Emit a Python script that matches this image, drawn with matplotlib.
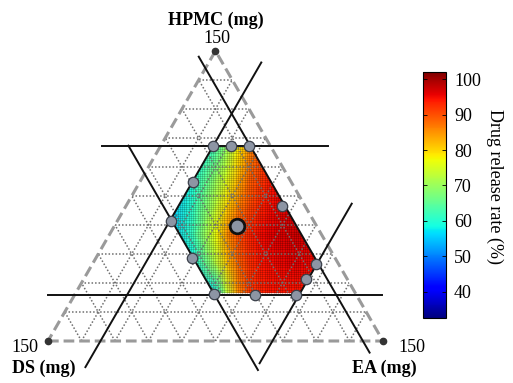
import numpy as np
import matplotlib
matplotlib.use("Agg")
import matplotlib.pyplot as plt
from matplotlib.patches import Polygon

plt.rcParams["font.family"] = ["Liberation Serif", "DejaVu Serif"]

TOTAL = 150          # mg, every vertex of the triangle
GRID_STEP = 15       # mg between dotted grid lines

# feasible region corners (HPMC, EA in mg; DS is the rest)
hull_hpmc = [101, 101, 40.5, 24, 24, 63]
hull_ea = [23.5, 40, 100.5, 100.5, 62.5, 23.5]

# constraint lines: (component, value, from, to)
# HPMC lines run over EA, DS / EA lines run over HPMC
constraint_lines = [
    ("HPMC", 101, -26.5, 75),
    ("HPMC", 24, -12, 137.5),
    ("DS", 9, 147, -6),
    ("EA", 23.5, 144, -13.5),
    ("DS", 63.5, 101, -15),
    ("EA", 100.5, 71, -11.5),
]

# design points
design_hpmc = [101, 101, 101, 82, 70, 62, 43, 40, 32, 24.5, 24, 24]
design_ea = [23.5, 31.5, 39.5, 24, 70, 24, 43, 100, 99.5, 62, 80.5, 99]
center_hpmc = 59.5
center_ea = 55

# drug release rate (%) read on rows of HPMC and columns of
# horizontal position (EA + HPMC / 2, mg)
surf_pos = [55, 65, 75, 80, 85, 90, 95, 100, 110, 120]
surf_hpmc = [25, 40, 55, 70, 85, 100]
release = [
    [48, 52, 58, 73, 85, 91, 93, 94, 94, 94],
    [53, 58, 72, 81, 88, 92, 94, 95, 96, 95],
    [55, 62, 77, 85, 90, 93, 95, 96, 97, 97],
    [55, 61, 73, 80, 86, 90, 93, 95, 97, 97],
    [53, 59, 69, 75, 82, 88, 91, 94, 96, 97],
    [53, 57, 63, 70, 78, 85, 90, 93, 96, 97],
]

CBAR_MIN, CBAR_MAX = 32.6, 102.1
cbar_ticks = [40, 50, 60, 70, 80, 90, 100]

H = np.sqrt(3) / 2


def tern(hpmc, ea):
    hpmc = np.asarray(hpmc, dtype=float)
    ea = np.asarray(ea, dtype=float)
    return ea + hpmc / 2, hpmc * H


def seg(comp, value, lo, hi):
    t = np.array([lo, hi], dtype=float)
    if comp == "HPMC":
        return tern([value, value], t)
    if comp == "EA":
        return tern(t, [value, value])
    # DS constant: EA = TOTAL - DS - HPMC
    return tern(t, TOTAL - value - t)


fig = plt.figure(figsize=(5.13, 3.83), dpi=100)
scale = 2.2333  # px per mg
ax = fig.add_axes([0, 0, 1, 1])
ax.set_xlim(-48 / scale, (513 - 48) / scale)
ax.set_ylim(-(383 - 341) / scale, 341 / scale)
ax.axis("off")

# feasible region and response surface
hx, hy = tern(hull_hpmc, hull_ea)
region = Polygon(np.column_stack([hx, hy]), closed=True, facecolor="none",
                 edgecolor="none")
ax.add_patch(region)

gx, gh = np.meshgrid(surf_pos, surf_hpmc)
mesh = ax.pcolormesh(gx, gh * H, np.array(release), cmap="jet",
                     shading="gouraud", vmin=CBAR_MIN, vmax=CBAR_MAX, zorder=1)
mesh.set_clip_path(region)

# fine mesh texture over the surface
for xv in np.arange(50, 125, 1.0):
    ln, = ax.plot([xv, xv], [15, 95], color="k", lw=0.4, alpha=0.3, zorder=2)
    ln.set_clip_path(region)
for yv in np.arange(15, 95, 1.0):
    ln, = ax.plot([50, 125], [yv, yv], color="k", lw=0.4, alpha=0.3, zorder=2)
    ln.set_clip_path(region)

# dotted triangular grid
for k in range(GRID_STEP, TOTAL, GRID_STEP):
    for comp in ("HPMC", "EA", "DS"):
        x, y = seg(comp, k, 0, TOTAL - k)
        ax.plot(x, y, color="#6f6f6f", lw=1.1, ls=(0, (1, 1.3)), zorder=3)

# dashed outline of the triangle
vx, vy = tern([0, 0, TOTAL, 0], [0, TOTAL, 0, 0])
ax.plot(vx, vy, color="#9a9a9a", lw=2.2, dashes=(3.5, 1.6), zorder=4)
ax.plot(vx[:3], vy[:3], "o", color="#333333", ms=4.5, zorder=4)

# constraint lines
for comp, value, lo, hi in constraint_lines:
    x, y = seg(comp, value, lo, hi)
    ax.plot(x, y, color="#111111", lw=1.4, zorder=5)

# design points
dx, dy = tern(design_hpmc, design_ea)
ax.plot(dx, dy, "o", ms=7.5, mfc="#8d95a4", mec="#3b404a", mew=0.9, zorder=6)
cx, cy = tern(center_hpmc, center_ea)
ax.plot(cx, cy, "o", ms=10.5, mfc="#8d95a4", mec="#111111", mew=2.0, zorder=7)

# labels
tx, ty = tern(TOTAL, 0)
ax.text(tx + 0.5, ty + 3.4, "150", fontsize=13, ha="center", va="baseline")
ax.text(tx, ty + 11.6, "HPMC (mg)", fontsize=13, fontweight="bold",
        ha="center", va="baseline")
lx, ly = tern(0, 0)
ax.text(lx - 4.5, ly - 4.9, "150", fontsize=13, ha="right", va="baseline")
ax.text(lx - 16.1, ly - 14.5, "DS (mg)", fontsize=13, fontweight="bold",
        ha="left", va="baseline")
rx, ry = tern(0, TOTAL)
ax.text(rx + 6.7, ry - 4.8, "150", fontsize=13, ha="left", va="baseline")
ax.text(rx - 13.9, ry - 14.3, "EA (mg)", fontsize=13, fontweight="bold",
        ha="left", va="baseline")

# colorbar
cax = fig.add_axes([423.3 / 513, 1 - 318 / 383, 22.4 / 513, (318 - 71.7) / 383])
cbar = fig.colorbar(mesh, cax=cax, ticks=cbar_ticks)
cbar.outline.set_linewidth(0.8)
cax.tick_params(labelsize=13, direction="in", length=3, width=0.6,
                left=True, right=True, pad=6)
fig.text(495 / 513, 1 - 186.5 / 383, "Drug release rate (%)", fontsize=13,
         rotation=270, ha="center", va="center")

fig.savefig("out.png", dpi=100)
plt.close(fig)
